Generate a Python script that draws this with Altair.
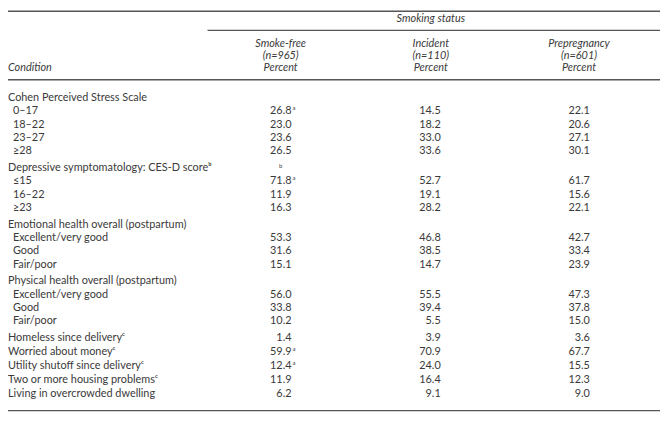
import altair as alt
import pandas as pd

# ---- data ----
labels = [
    "Cohen Perceived Stress Scale", "0–17", "18–22", "23–27", "≥28",
    "Depressive symptomatology: CES-D scoreᵇ", "≤15", "16–22", "≥23",
    "Emotional health overall (postpartum)", "Excellent/very good", "Good", "Fair/poor",
    "Physical health overall (postpartum)", "Excellent/very good", "Good", "Fair/poor",
    "Homeless since deliveryᶜ", "Worried about moneyᶜ", "Utility shutoff since deliveryᶜ",
    "Two or more housing problemsᶜ", "Living in overcrowded dwelling",
]
levels = [0, 1, 1, 1, 1, 0, 1, 1, 1, 0, 1, 1, 1, 0, 1, 1, 1, 0, 0, 0, 0, 0]
smoke_free = [None, 26.8, 23.0, 23.6, 26.5, None, 71.8, 11.9, 16.3, None, 53.3, 31.6, 15.1,
              None, 56.0, 33.8, 10.2, 1.4, 59.9, 12.4, 11.9, 6.2]
incident = [None, 14.5, 18.2, 33.0, 33.6, None, 52.7, 19.1, 28.2, None, 46.8, 38.5, 14.7,
            None, 55.5, 39.4, 5.5, 3.9, 70.9, 24.0, 16.4, 9.1]
prepregnancy = [None, 22.1, 20.6, 27.1, 30.1, None, 61.7, 15.6, 22.1, None, 42.7, 33.4, 23.9,
                None, 47.3, 37.8, 15.0, 3.6, 67.7, 15.5, 12.3, 9.0]
sf_notes = ["", "a", "", "", "", "b", "a", "", "", "", "", "", "", "", "", "", "",
            "", "a", "a", "", ""]
col_names = ["Smoke-free", "Incident", "Prepregnancy"]
col_ns = ["(n=965)", "(n=110)", "(n=601)"]

# row positions (row units, with a gap between groups)
pos = []
p = 0.0
for i, lv in enumerate(levels):
    if i > 0:
        p += 1
        if lv == 0:
            p += 0.27 if levels[i - 1] == 1 else 0.05
    pos.append(round(p, 2))

df = pd.DataFrame({
    "label": labels, "level": levels, "pos": pos,
    "sf": smoke_free, "inc": incident, "pre": prepregnancy, "note": sf_notes,
})

FONT = "Lato"
COL = "#3a3a3a"
FS = 11
W, H = 660, 419

yenc = alt.Y("pos:Q", scale=alt.Scale(domain=[0, pos[-1]], range=[88.5, 388.2],
                                      nice=False, zero=False), axis=None)

base = alt.Chart(df)

label_layer = base.mark_text(align="left", baseline="middle", font=FONT,
                             fontSize=FS, color=COL).encode(
    x=alt.X("level:Q", scale=alt.Scale(domain=[0, 1], range=[0, 5]), axis=None),
    y=yenc, text="label:N")

right_edges = [287, 438, 589]
centers = [276, 428, 578]
fields = ["sf", "inc", "pre"]

value_layers = []
for f, xr in zip(fields, right_edges):
    value_layers.append(
        base.transform_filter(f"isValid(datum.{f})").mark_text(
            align="right", baseline="middle", font=FONT, fontSize=FS, color=COL
        ).encode(x=alt.value(xr), y=yenc, text=alt.Text(f"{f}:Q", format=".1f"))
    )

note_after = base.transform_filter("datum.note != '' && isValid(datum.sf)").mark_text(
    align="left", baseline="middle", font=FONT, fontSize=6, color=COL, dy=-3
).encode(x=alt.value(right_edges[0] + 1), y=yenc, text="note:N")

note_alone = base.transform_filter("datum.note != '' && !isValid(datum.sf)").mark_text(
    align="center", baseline="middle", font=FONT, fontSize=6, color=COL, dy=-2
).encode(x=alt.value(centers[0]), y=yenc, text="note:N")


def const_text(txt, x, y, align="center", italic=True):
    return alt.Chart(alt.Data(values=[{}])).mark_text(
        text=txt, align=align, baseline="middle", font=FONT, fontSize=FS,
        color=COL, fontStyle="italic" if italic else "normal"
    ).encode(x=alt.value(x), y=alt.value(y))


def rule(x1, x2, y, w=1.5):
    return alt.Chart(alt.Data(values=[{}])).mark_rule(
        color="#555555", strokeWidth=w
    ).encode(x=alt.value(x1), x2=alt.value(x2), y=alt.value(y))


headers = [const_text("Smoking status", centers[1], 9),
           const_text("Condition", 0, 58, align="left")]
for name, n, cx in zip(col_names, col_ns, centers):
    headers += [const_text(name, cx, 34), const_text(n, cx, 46), const_text("Percent", cx, 58)]

rules = [rule(0, W, 0.75), rule(202, W, 20, 1.2), rule(0, W, 70), rule(0, W, 405)]

chart = alt.layer(label_layer, *value_layers, note_after, note_alone, *headers, *rules).properties(
    width=W, height=H,
    autosize=alt.AutoSizeParams(type="none"),
    padding=0,
).configure_view(stroke=None)

chart.save("out.html", embed_options={"renderer": "svg", "actions": False})
